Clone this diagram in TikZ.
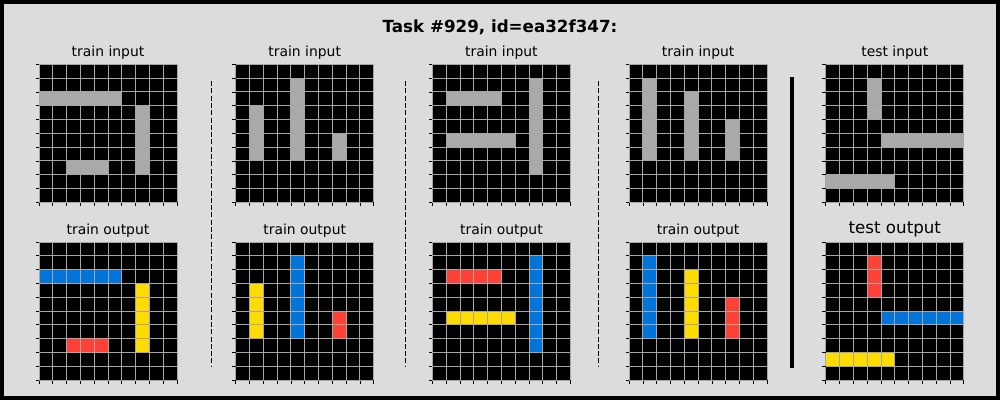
\documentclass[tikz,border=0pt]{standalone}
\usepackage{fontspec}
\setmainfont{DejaVu Sans}
\definecolor{bg}{HTML}{DCDCDC}
\definecolor{arcgray}{HTML}{AAAAAA}
\definecolor{arcblue}{HTML}{0074D9}
\definecolor{arcred}{HTML}{FF4136}
\definecolor{arcyellow}{HTML}{FFDC00}
\definecolor{gline}{HTML}{A6A6A6}
\newcommand{\cellc}[3]{\fill[#3] ({#1*13.8},{#2*13.8}) rectangle ++(13.8,13.8);}
\newcommand{\hrun}[4]{\foreach \c in {#2,...,#3}{\cellc{\c}{#1}{#4}}}
\newcommand{\vrun}[4]{\foreach \r in {#2,...,#3}{\cellc{#1}{\r}{#4}}}
\newcommand{\gridbase}{\fill[black] (0,0) rectangle (138,138);}
\newcommand{\gridlines}{%
  \foreach \i in {0,...,10}{%
    \draw[gline,line width=1pt] ({\i*13.8},0) -- ({\i*13.8},138);
    \draw[gline,line width=1pt] (0,{\i*13.8}) -- (138,{\i*13.8});
    \draw[black,line width=0.8pt] (-3.5,{\i*13.8}) -- (0,{\i*13.8});
    \draw[black,line width=0.8pt] ({\i*13.8},138) -- ({\i*13.8},141.5);
  }}
\tikzset{
  lbl/.style={font=\fontsize{13.9}{16}\selectfont, anchor=center, inner sep=0pt},
  biglbl/.style={font=\fontsize{16.7}{19}\selectfont, anchor=center, inner sep=0pt},
  sep/.style={black, line width=1pt, dash pattern=on 5pt off 2.3pt},
}
\begin{document}
\begin{tikzpicture}[x=1pt,y=-1pt]
\useasboundingbox (0,0) rectangle (1000,400);
\fill[bg] (0,0) rectangle (1000,400);
\draw[black,line width=4pt] (2,2) rectangle (998,398);
\node[biglbl, font=\fontsize{16.7}{19}\selectfont\bfseries] (title) at (500,27.5) {Task \#929, id=ea32f347:};

% grid 1
\begin{scope}[shift={(39,64.3)}]
\gridbase
\hrun{2}{0}{5}{arcgray}\vrun{7}{3}{7}{arcgray}\hrun{7}{2}{4}{arcgray}
\gridlines
\end{scope}
\begin{scope}[shift={(39,242)}]
\gridbase
\hrun{2}{0}{5}{arcblue}\vrun{7}{3}{7}{arcyellow}\hrun{7}{2}{4}{arcred}
\gridlines
\end{scope}
% grid 2
\begin{scope}[shift={(235.7,64.3)}]
\gridbase
\vrun{1}{3}{6}{arcgray}\vrun{4}{1}{6}{arcgray}\vrun{7}{5}{6}{arcgray}
\gridlines
\end{scope}
\begin{scope}[shift={(235.7,242)}]
\gridbase
\vrun{1}{3}{6}{arcyellow}\vrun{4}{1}{6}{arcblue}\vrun{7}{5}{6}{arcred}
\gridlines
\end{scope}
% grid 3
\begin{scope}[shift={(432.4,64.3)}]
\gridbase
\hrun{2}{1}{4}{arcgray}\hrun{5}{1}{5}{arcgray}\vrun{7}{1}{7}{arcgray}
\gridlines
\end{scope}
\begin{scope}[shift={(432.4,242)}]
\gridbase
\hrun{2}{1}{4}{arcred}\hrun{5}{1}{5}{arcyellow}\vrun{7}{1}{7}{arcblue}
\gridlines
\end{scope}
% grid 4
\begin{scope}[shift={(629.1,64.3)}]
\gridbase
\vrun{1}{1}{6}{arcgray}\vrun{4}{2}{6}{arcgray}\vrun{7}{4}{6}{arcgray}
\gridlines
\end{scope}
\begin{scope}[shift={(629.1,242)}]
\gridbase
\vrun{1}{1}{6}{arcblue}\vrun{4}{2}{6}{arcyellow}\vrun{7}{4}{6}{arcred}
\gridlines
\end{scope}
% test
\begin{scope}[shift={(825.8,64.3)}]
\gridbase
\vrun{3}{1}{3}{arcgray}\hrun{5}{4}{9}{arcgray}\hrun{8}{0}{4}{arcgray}
\gridlines
\end{scope}
\begin{scope}[shift={(825.8,242)}]
\gridbase
\vrun{3}{1}{3}{arcred}\hrun{5}{4}{9}{arcblue}\hrun{8}{0}{4}{arcyellow}
\gridlines
\end{scope}

% labels
\node[lbl] (ti1) at (108,52.5) {train input};
\node[lbl] (ti2) at (304.7,52.5) {train input};
\node[lbl] (ti3) at (501.4,52.5) {train input};
\node[lbl] (ti4) at (698.1,52.5) {train input};
\node[lbl] (tei) at (894.8,52.5) {test input};
\node[lbl] (to1) at (108,230.5) {train output};
\node[lbl] (to2) at (304.7,230.5) {train output};
\node[lbl] (to3) at (501.4,230.5) {train output};
\node[lbl] (to4) at (698.1,230.5) {train output};
\node[biglbl] (teo) at (894.8,229.5) {test output};

% separators
\draw[sep] (211,81) -- (211,367);
\draw[sep] (405,81) -- (405,367);
\draw[sep] (598,81) -- (598,367);
\draw[black,line width=3.5pt] (792,77) -- (792,368);
\end{tikzpicture}
\end{document}
